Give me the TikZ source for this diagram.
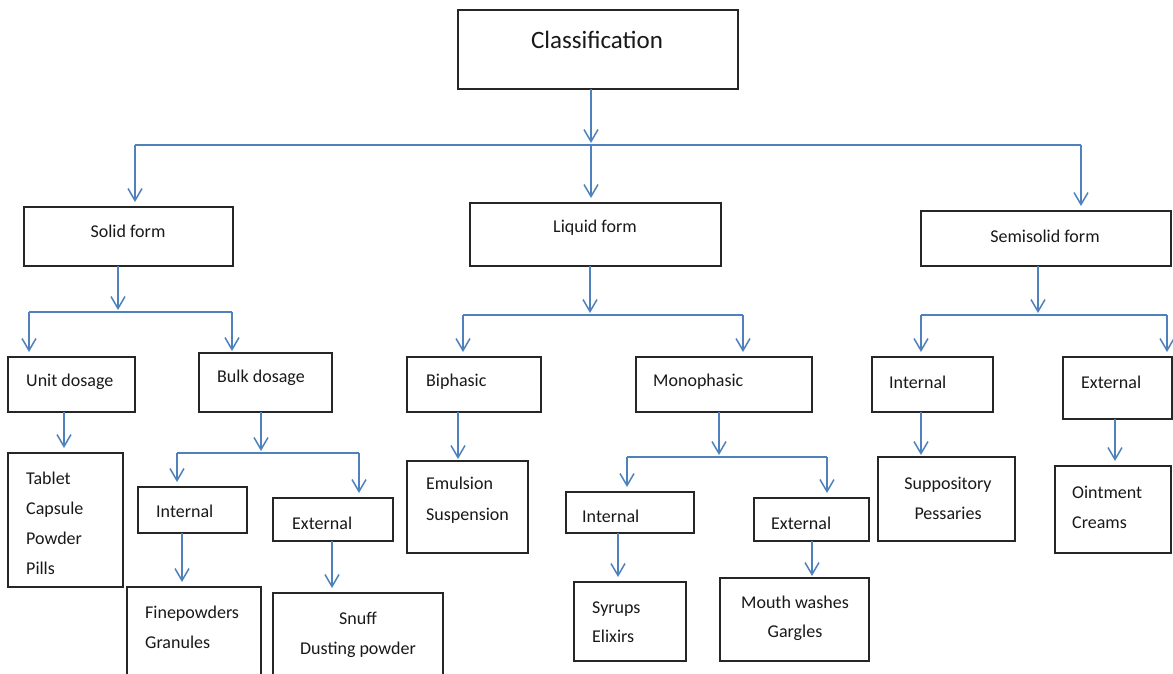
\documentclass[tikz,border=0pt]{standalone}
\usepackage{fontspec}
\setmainfont{Carlito}
\usetikzlibrary{arrows.meta}
\definecolor{linkblue}{RGB}{79,129,189}
\newcommand\mybox[5]{\node[boxst, minimum width={(#4-#2)*1pt}, minimum height={(#5-#3)*1pt}] (#1) at ({(#2+#4)/2},{(#3+#5)/2}) {};}
\begin{document}
\begin{tikzpicture}[x=1pt,y=-1pt,
  boxst/.style={draw=black!85, line width=1.3pt, inner sep=0pt, outer sep=0pt, fill=white},
  txt/.style={inner sep=0pt, font=\fontsize{18}{30}\selectfont, text=black!90},
  ln/.style={draw=linkblue, line width=1.5pt},
  arr/.style={ln, -{Straight Barb[length=12pt,width=14pt]}, shorten >=2pt},
  arrb/.style={ln, -{Straight Barb[length=12pt,width=14pt]}, shorten >=5pt}]
\useasboundingbox[fill=white] (0,0) rectangle (1173,673);
% boxes
\mybox{class}{458}{10}{738}{89}
\mybox{solid}{24}{207}{233}{266}
\mybox{liquid}{470}{203}{721}{266}
\mybox{semi}{921}{211}{1171}{266}
\mybox{unit}{8}{357}{135}{412}
\mybox{tablet}{8}{453}{123}{587}
\mybox{bulk}{199}{353}{332}{412}
\mybox{intB}{138}{487}{247}{533}
\mybox{extB}{273}{498}{393}{541}
\mybox{fine}{127}{587}{261}{690}
\mybox{snuff}{273}{593}{443}{690}
\mybox{biph}{407}{357}{541}{412}
\mybox{emul}{407}{461}{528}{553}
\mybox{mono}{636}{357}{812}{412}
\mybox{intM}{566}{492}{694}{533}
\mybox{extM}{754}{498}{869}{541}
\mybox{syrup}{574}{582}{686}{661}
\mybox{mouth}{720}{578}{869}{661}
\mybox{intS}{872}{357}{993}{412}
\mybox{supp}{878}{457}{1015}{541}
\mybox{extS}{1063}{357}{1172}{419}
\mybox{oint}{1055}{466}{1171}{553}
% texts
\node[txt, font=\fontsize{25}{30}\selectfont] (classT) at (597,40) {Classification};
\node[txt] (solidT) at (128,231) {Solid form};
\node[txt] (liquidT) at (595,228) {Liquid form};
\node[txt] (semiT) at (1045,236) {Semisolid form};
\node[txt, anchor=west] (unitT) at (26,382) {Unit dosage};
\node[txt, anchor=west, align=left] (tabletT) at (26,523) {Tablet\\Capsule\\Powder\\Pills};
\node[txt, anchor=west] (bulkT) at (217,378) {Bulk dosage};
\node[txt, anchor=west] (intBT) at (156,511) {Internal};
\node[txt, anchor=west] (extBT) at (292,523) {External};
\node[txt, anchor=west, align=left] (fineT) at (145,627) {Finepowders\\Granules};
\node[txt, align=center] (snuffT) at (358,635) {Snuff\\Dusting powder};
\node[txt, anchor=west] (biphT) at (426,382) {Biphasic};
\node[txt, anchor=west, align=left, font=\fontsize{18}{31}\selectfont] (emulT) at (426,500) {Emulsion\\Suspension};
\node[txt, anchor=west] (monoT) at (653,382) {Monophasic};
\node[txt, anchor=west] (intMT) at (582,516) {Internal};
\node[txt, anchor=west] (extMT) at (771,523) {External};
\node[txt, anchor=west, align=left, font=\fontsize{18}{29}\selectfont] (syrupT) at (592,622) {Syrups\\Elixirs};
\node[txt, align=center, font=\fontsize{18}{29}\selectfont] (mouthT) at (795,618) {Mouth washes\\Gargles};
\node[txt, anchor=west] (intST) at (889,382) {Internal};
\node[txt, align=center] (suppT) at (948,498) {Suppository\\Pessaries};
\node[txt, anchor=west] (extST) at (1081,382) {External};
\node[txt, anchor=west, align=left] (ointT) at (1072,507) {Ointment\\Creams};
% bus coordinates
\coordinate (b0) at (591,145);
\coordinate (b0L) at (135,145);
\coordinate (b0R) at (1081,145);
\coordinate (b1) at (118,312);
\coordinate (b1L) at (29,312);
\coordinate (b1R) at (232,312);
\coordinate (b2) at (261,453);
\coordinate (b2L) at (177,453);
\coordinate (b2R) at (359,453);
\coordinate (b3) at (590,315);
\coordinate (b3L) at (463,315);
\coordinate (b3R) at (743,315);
\coordinate (b4) at (719,457);
\coordinate (b4L) at (627,457);
\coordinate (b4R) at (827,457);
\coordinate (b5) at (1038,315);
\coordinate (b5L) at (921,315);
\coordinate (b5R) at (1167,315);
% level 0
\draw[arr] (class.south -| b0) -- (b0);
\draw[ln] (b0L) -- (b0R);
\draw[arrb] (b0L) -- (solid.north -| b0L);
\draw[arrb] (b0) -- (liquid.north -| b0);
\draw[arrb] (b0R) -- (semi.north -| b0R);
% solid
\draw[arr] (solid.south -| b1) -- (b1);
\draw[ln] (b1L) -- (b1R);
\draw[arrb] (b1L) -- (unit.north -| b1L);
\draw[arr] (b1R) -- (bulk.north -| b1R);
\draw[arrb] (unit.south -| 64,0) -- (tablet.north -| 64,0);
\draw[arr] (bulk.south -| b2) -- (b2);
\draw[ln] (b2L) -- (b2R);
\draw[arrb] (b2L) -- (intB.north -| b2L);
\draw[arrb] (b2R) -- (extB.north -| b2R);
\draw[arrb] (intB.south -| 182,0) -- (fine.north -| 182,0);
\draw[arrb] (extB.south -| 332,0) -- (snuff.north -| 332,0);
% liquid
\draw[arr] (liquid.south -| b3) -- (b3);
\draw[ln] (b3L) -- (b3R);
\draw[arrb] (b3L) -- (biph.north -| b3L);
\draw[arrb] (b3R) -- (mono.north -| b3R);
\draw[arr] (biph.south -| 458,0) -- (emul.north -| 458,0);
\draw[arr] (mono.south -| b4) -- (b4);
\draw[ln] (b4L) -- (b4R);
\draw[arrb] (b4L) -- (intM.north -| b4L);
\draw[arrb] (b4R) -- (extM.north -| b4R);
\draw[arrb] (intM.south -| 618,0) -- (syrup.north -| 618,0);
\draw[arr] (extM.south -| 812,0) -- (mouth.north -| 812,0);
% semisolid
\draw[arr] (semi.south -| b5) -- (b5);
\draw[ln] (b5L) -- (b5R);
\draw[arrb] (b5L) -- (intS.north -| b5L);
\draw[arrb] (b5R) -- (extS.north -| b5R);
\draw[arr] (intS.south -| 921,0) -- (supp.north -| 921,0);
\draw[arrb] (extS.south -| 1115,0) -- (oint.north -| 1115,0);
\end{tikzpicture}
\end{document}
